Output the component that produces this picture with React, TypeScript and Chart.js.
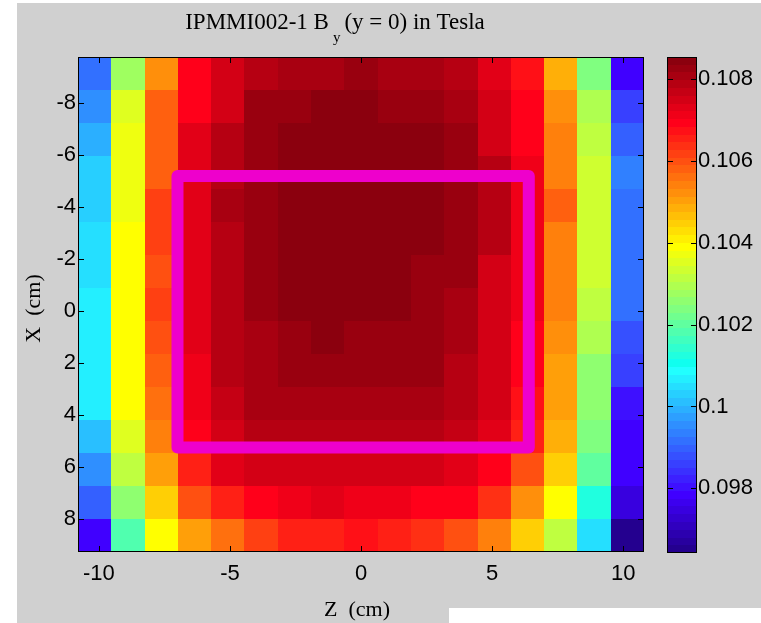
import React, { useEffect, useRef } from "react";
import { Chart, registerables } from "chart.js";

Chart.register(...registerables);

// Probe grid centres (cm), 0.5-inch pitch
const Z_CM = [-10.16, -8.89, -7.62, -6.35, -5.08, -3.81, -2.54, -1.27, 0, 1.27, 2.54, 3.81, 5.08, 6.35, 7.62, 8.89, 10.16];
const X_CM = [-9.14, -7.87, -6.6, -5.33, -4.06, -2.79, -1.52, -0.25, 1.02, 2.29, 3.56, 4.83, 6.1, 7.37, 8.64];
const PITCH_CM = 1.27;

// Axis ranges and ticks
const Z_RANGE = [-10.795, 10.795];
const X_RANGE = [-9.779, 9.271];
const Z_TICKS = [-10, -5, 0, 5, 10];
const X_TICKS = [-8, -6, -4, -2, 0, 2, 4, 6, 8];

// Colour scale (Tesla)
const B_RANGE = [0.09642, 0.10854];
const CB_TICKS = [0.098, 0.1, 0.102, 0.104, 0.106, 0.108];
const CB_TICK_LABELS = ["0.098", "0.1", "0.102", "0.104", "0.106", "0.108"];

// Magnet outline (cm)
const MAGNET_Z = [-7.0, 6.4];
const MAGNET_X = [-5.2, 5.25];

// Measured B_y (T); one row per X position, one column per Z position
const BY_T = [
  [0.09917, 0.10276, 0.10523, 0.10693, 0.1075, 0.10788, 0.10807, 0.10807, 0.10826, 0.10807, 0.10807, 0.10788, 0.10731, 0.10674, 0.10485, 0.10239, 0.09784],
  [0.09954, 0.10352, 0.10579, 0.10693, 0.1075, 0.10826, 0.10826, 0.10845, 0.10845, 0.10826, 0.10826, 0.10807, 0.1075, 0.10693, 0.10523, 0.10295, 0.0986],
  [0.09992, 0.10371, 0.10579, 0.10731, 0.10788, 0.10826, 0.10845, 0.10845, 0.10845, 0.10845, 0.10845, 0.10826, 0.1075, 0.10693, 0.10542, 0.10314, 0.09898],
  [0.1003, 0.10371, 0.10579, 0.10731, 0.10788, 0.10826, 0.10845, 0.10845, 0.10845, 0.10845, 0.10845, 0.10826, 0.10788, 0.10712, 0.10542, 0.10333, 0.09936],
  [0.1003, 0.10371, 0.10617, 0.10731, 0.10807, 0.10826, 0.10845, 0.10845, 0.10845, 0.10845, 0.10845, 0.10826, 0.10788, 0.10712, 0.10579, 0.10333, 0.09917],
  [0.10049, 0.1039, 0.10617, 0.10731, 0.10788, 0.10826, 0.10845, 0.10845, 0.10845, 0.10845, 0.10845, 0.10826, 0.10788, 0.10712, 0.10542, 0.10333, 0.09917],
  [0.10049, 0.1039, 0.10598, 0.10731, 0.10788, 0.10826, 0.10845, 0.10845, 0.10845, 0.10845, 0.10826, 0.10826, 0.1075, 0.10712, 0.10542, 0.10333, 0.09917],
  [0.10068, 0.1039, 0.10617, 0.10731, 0.10788, 0.10826, 0.10845, 0.10845, 0.10845, 0.10845, 0.10826, 0.10807, 0.1075, 0.10712, 0.10542, 0.10314, 0.09917],
  [0.10068, 0.1039, 0.10598, 0.10731, 0.10788, 0.10807, 0.10826, 0.10845, 0.10826, 0.10826, 0.10826, 0.10807, 0.1075, 0.10693, 0.10523, 0.10295, 0.09879],
  [0.10068, 0.1039, 0.10579, 0.10712, 0.10788, 0.10807, 0.10826, 0.10826, 0.10826, 0.10826, 0.10826, 0.10788, 0.1075, 0.10693, 0.10504, 0.10257, 0.0986],
  [0.10068, 0.1039, 0.1056, 0.10712, 0.10769, 0.10807, 0.10807, 0.10807, 0.10807, 0.10807, 0.10807, 0.10788, 0.1075, 0.10674, 0.10504, 0.10257, 0.09803],
  [0.10011, 0.10352, 0.10542, 0.10693, 0.1075, 0.10788, 0.10788, 0.10788, 0.10788, 0.10788, 0.10788, 0.10769, 0.10731, 0.10655, 0.10485, 0.10239, 0.09784],
  [0.09954, 0.10314, 0.10504, 0.10655, 0.10731, 0.1075, 0.1075, 0.1075, 0.1075, 0.1075, 0.1075, 0.10731, 0.10693, 0.10598, 0.10447, 0.10201, 0.09784],
  [0.09898, 0.10257, 0.10447, 0.10598, 0.10655, 0.10693, 0.10712, 0.10731, 0.10712, 0.10712, 0.10693, 0.10693, 0.10636, 0.10523, 0.1039, 0.10125, 0.09746],
  [0.09784, 0.10182, 0.1039, 0.10504, 0.1056, 0.10617, 0.10655, 0.10655, 0.10674, 0.10655, 0.10636, 0.10598, 0.10542, 0.10447, 0.10314, 0.10049, 0.09651],
];

const N_COLORS = 64;
const FIGURE_GRAY = "#D0D0D0";
const MAGENTA = "#EE00CC";
const SANS = '"Liberation Sans", Arial, sans-serif';
const SERIF = '"Liberation Serif", "Times New Roman", serif';
const TICK_FONT = { family: SANS, size: 22 };
const TICK_LEN = 6;

// 64-level jet colormap
function jetRGB(k: number): [number, number, number] {
  const r = k < 24 ? 0 : k <= 39 ? (k - 23) / 16 : k <= 55 ? 1 : (71 - k) / 16;
  const g = k < 8 ? 0 : k <= 23 ? (k - 7) / 16 : k <= 39 ? 1 : k <= 55 ? (55 - k) / 16 : 0;
  const b = k <= 7 ? (k + 9) / 16 : k <= 23 ? 1 : k <= 39 ? (39 - k) / 16 : 0;
  return [r * 255, g * 255, b * 255];
}

function shade(k: number): string {
  let [r, g, b] = jetRGB(k);
  if (k < 24) r += b * (0.25 - (0.12 * g) / 255);
  if (k >= 40) b += 24 * (1 - g / 255);
  if (k >= 55) {
    r += (255 - r) * 0.09;
    b = r * 0.1;
  }
  return `rgb(${Math.round(r)},${Math.round(g)},${Math.round(b)})`;
}

function colorIndex(v: number): number {
  const t = (v - B_RANGE[0]) / (B_RANGE[1] - B_RANGE[0]);
  return Math.min(N_COLORS - 1, Math.max(0, Math.floor(t * N_COLORS)));
}

const heatmapPlugin = {
  id: "byHeatmap",
  beforeDatasetsDraw(chart: any) {
    const { ctx, chartArea, scales } = chart;
    const xs = scales.x;
    const ys = scales.y;
    const half = PITCH_CM / 2;
    ctx.save();
    ctx.beginPath();
    ctx.rect(chartArea.left, chartArea.top, chartArea.right - chartArea.left, chartArea.bottom - chartArea.top);
    ctx.clip();
    BY_T.forEach((row, ri) => {
      row.forEach((v, ci) => {
        const a = xs.getPixelForValue(Z_CM[ci] - half);
        const b = xs.getPixelForValue(Z_CM[ci] + half);
        const c = ys.getPixelForValue(X_CM[ri] - half);
        const d = ys.getPixelForValue(X_CM[ri] + half);
        const l = Math.round(Math.min(a, b));
        const r = Math.round(Math.max(a, b));
        const t = Math.round(Math.min(c, d));
        const bt = Math.round(Math.max(c, d));
        ctx.fillStyle = shade(colorIndex(v));
        ctx.fillRect(l, t, r - l, bt - t);
      });
    });
    ctx.restore();
  },
  afterDatasetsDraw(chart: any) {
    const { ctx, chartArea, scales } = chart;
    const { left, right, top, bottom } = chartArea;
    ctx.save();
    ctx.strokeStyle = "#000";
    ctx.lineWidth = 1;
    ctx.strokeRect(left + 0.5, top + 0.5, right - left - 1, bottom - top - 1);
    ctx.beginPath();
    Z_TICKS.forEach((v) => {
      const px = Math.round(scales.x.getPixelForValue(v)) + 0.5;
      ctx.moveTo(px, bottom);
      ctx.lineTo(px, bottom - TICK_LEN);
      ctx.moveTo(px, top);
      ctx.lineTo(px, top + TICK_LEN);
    });
    X_TICKS.forEach((v) => {
      const py = Math.round(scales.y.getPixelForValue(v)) + 0.5;
      ctx.moveTo(left, py);
      ctx.lineTo(left + TICK_LEN, py);
      ctx.moveTo(right, py);
      ctx.lineTo(right - TICK_LEN, py);
    });
    ctx.stroke();
    ctx.restore();
  },
  afterDraw(chart: any) {
    const { ctx, chartArea } = chart;
    const cx = (chartArea.left + chartArea.right) / 2;
    const cy = (chartArea.top + chartArea.bottom) / 2;
    ctx.save();
    ctx.fillStyle = "#000";
    ctx.textBaseline = "alphabetic";

    // Title with subscript
    const mainPart = "IPMMI002-1 B";
    const subPart = "y";
    const restPart = "(y = 0) in Tesla";
    ctx.font = `23px ${SERIF}`;
    const w1 = ctx.measureText(mainPart).width;
    const w3 = ctx.measureText(restPart).width;
    ctx.font = `15px ${SERIF}`;
    const w2 = ctx.measureText(subPart).width;
    const gapA = 4;
    const gapB = 4;
    const total = w1 + gapA + w2 + gapB + w3;
    const x0 = cx - 26 - total / 2;
    const base = chartArea.top - 28;
    ctx.textAlign = "left";
    ctx.font = `23px ${SERIF}`;
    ctx.fillText(mainPart, x0, base);
    ctx.font = `15px ${SERIF}`;
    ctx.fillText(subPart, x0 + w1 + gapA, base + 13);
    ctx.font = `23px ${SERIF}`;
    ctx.fillText(restPart, x0 + w1 + gapA + w2 + gapB, base);

    // Axis titles
    ctx.font = `22px ${SERIF}`;
    ctx.textAlign = "center";
    ctx.fillText("Z  (cm)", cx - 4, chartArea.bottom + 64);
    ctx.translate(chartArea.left - 38, cy + 4);
    ctx.rotate(-Math.PI / 2);
    ctx.fillText("X  (cm)", 0, 0);
    ctx.restore();
  },
};

const colorbarPlugin = {
  id: "byColorbar",
  beforeDatasetsDraw(chart: any) {
    const { ctx, chartArea, scales } = chart;
    const ys = scales.y;
    const span = B_RANGE[1] - B_RANGE[0];
    ctx.save();
    for (let k = 0; k < N_COLORS; k++) {
      const a = ys.getPixelForValue(B_RANGE[0] + (k * span) / N_COLORS);
      const b = ys.getPixelForValue(B_RANGE[0] + ((k + 1) * span) / N_COLORS);
      const t = Math.round(Math.min(a, b));
      const bt = Math.round(Math.max(a, b));
      ctx.fillStyle = shade(k);
      ctx.fillRect(chartArea.left, t, chartArea.right - chartArea.left, bt - t);
    }
    const { left, right, top, bottom } = chartArea;
    ctx.strokeStyle = "#000";
    ctx.lineWidth = 1;
    ctx.strokeRect(left + 0.5, top + 0.5, right - left - 1, bottom - top - 1);
    ctx.beginPath();
    CB_TICKS.forEach((v) => {
      const py = Math.round(ys.getPixelForValue(v)) + 0.5;
      ctx.moveTo(left, py);
      ctx.lineTo(left + TICK_LEN, py);
      ctx.moveTo(right, py);
      ctx.lineTo(right - TICK_LEN, py);
    });
    ctx.stroke();
    ctx.restore();
  },
};

export default function App() {
  const mainRef = useRef<HTMLCanvasElement>(null);
  const barRef = useRef<HTMLCanvasElement>(null);

  useEffect(() => {
    const outline = [
      { x: MAGNET_Z[0], y: MAGNET_X[0] },
      { x: MAGNET_Z[1], y: MAGNET_X[0] },
      { x: MAGNET_Z[1], y: MAGNET_X[1] },
      { x: MAGNET_Z[0], y: MAGNET_X[1] },
      { x: MAGNET_Z[0], y: MAGNET_X[0] },
    ];

    const main = new Chart(mainRef.current as HTMLCanvasElement, {
      type: "scatter",
      data: {
        datasets: [
          {
            label: "Magnet outline",
            data: outline,
            showLine: true,
            borderColor: MAGENTA,
            backgroundColor: MAGENTA,
            borderWidth: 12,
            borderJoinStyle: "round",
            borderCapStyle: "round",
            pointRadius: 0,
            tension: 0,
            fill: false,
          } as any,
        ],
      },
      options: {
        responsive: false,
        animation: false,
        devicePixelRatio: 1,
        layout: { padding: { left: 28, top: 57, right: 117, bottom: 31 } },
        plugins: { legend: { display: false }, tooltip: { enabled: false } },
        scales: {
          x: {
            type: "linear",
            min: Z_RANGE[0],
            max: Z_RANGE[1],
            grid: { display: false, drawTicks: false },
            border: { display: false },
            afterBuildTicks: (s: any) => {
              s.ticks = Z_TICKS.map((value) => ({ value }));
            },
            afterFit: (s: any) => {
              s.height = 40;
            },
            ticks: { font: TICK_FONT, color: "#000", padding: 9, maxRotation: 0, autoSkip: false },
          },
          y: {
            type: "linear",
            reverse: true,
            min: X_RANGE[0],
            max: X_RANGE[1],
            grid: { display: false, drawTicks: false },
            border: { display: false },
            afterBuildTicks: (s: any) => {
              s.ticks = X_TICKS.map((value) => ({ value }));
            },
            afterFit: (s: any) => {
              s.width = 50;
            },
            ticks: { font: TICK_FONT, color: "#000", padding: 2, autoSkip: false },
          },
        },
      } as any,
      plugins: [heatmapPlugin],
    });

    const bar = new Chart(barRef.current as HTMLCanvasElement, {
      type: "scatter",
      data: { datasets: [] },
      options: {
        responsive: false,
        animation: false,
        devicePixelRatio: 1,
        layout: { padding: { left: 27, top: 57, right: 0, bottom: 70 } },
        plugins: { legend: { display: false }, tooltip: { enabled: false } },
        scales: {
          x: { type: "linear", display: false, min: 0, max: 1 },
          y: {
            type: "linear",
            position: "right",
            min: B_RANGE[0],
            max: B_RANGE[1],
            grid: { display: false, drawTicks: false },
            border: { display: false },
            afterBuildTicks: (s: any) => {
              s.ticks = CB_TICKS.map((value) => ({ value }));
            },
            afterFit: (s: any) => {
              s.width = 64;
            },
            ticks: {
              font: TICK_FONT,
              color: "#000",
              padding: 1,
              autoSkip: false,
              callback: (_v: any, i: number) => CB_TICK_LABELS[i],
            },
          },
        },
      } as any,
      plugins: [colorbarPlugin],
    });

    return () => {
      main.destroy();
      bar.destroy();
    };
  }, []);

  return (
    <div style={{ position: "absolute", left: 0, top: 0, width: 761, height: 623, background: "#fff", overflow: "hidden" }}>
      <div style={{ position: "absolute", left: 17, top: 3, width: 744, height: 620, background: FIGURE_GRAY }} />
      <div style={{ position: "absolute", left: 449, top: 608, width: 312, height: 15, background: "#fff" }} />
      <canvas ref={mainRef} width={761} height={623} style={{ position: "absolute", left: 0, top: 0, width: 761, height: 623 }} />
      <canvas ref={barRef} width={121} height={623} style={{ position: "absolute", left: 640, top: 0, width: 121, height: 623 }} />
    </div>
  );
}
